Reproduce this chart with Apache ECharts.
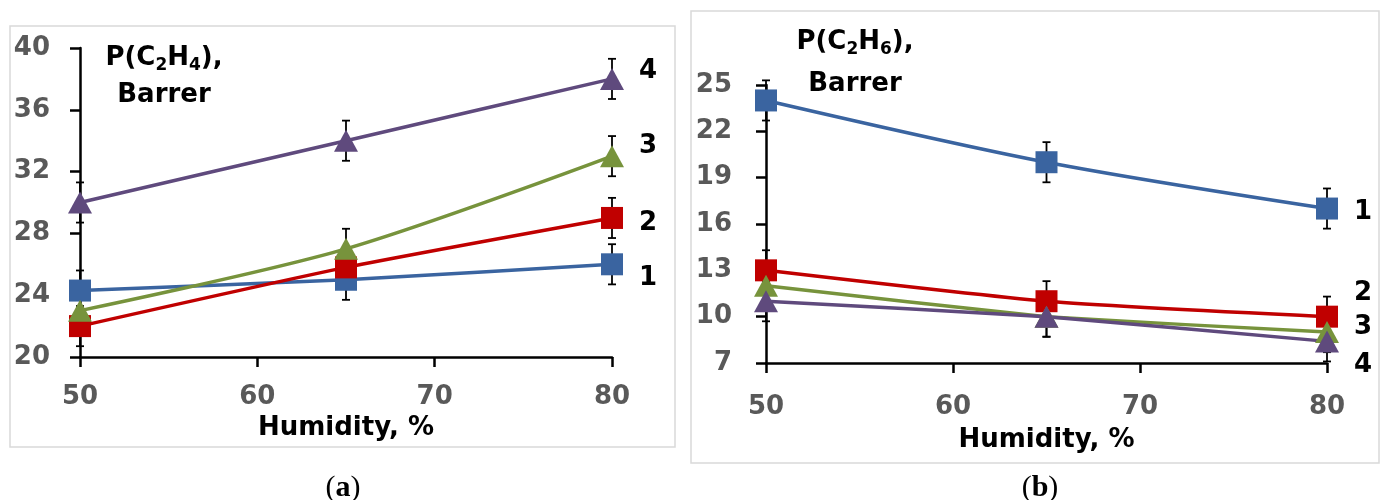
<!DOCTYPE html>
<html>
<head>
<meta charset="utf-8">
<script src="https://cdn.jsdelivr.net/npm/echarts@6/dist/echarts.min.js"></script>
<style>
  html, body { margin: 0; padding: 0; background: #fff; }
  #chart { width: 1383px; height: 500px; }
</style>
</head>
<body>
<div id="chart"></div>
<script>
// humidity, %
const humidity = [50, 65, 80]

// (a) P(C2H4), Barrer, samples 1..4
const ethylene1 = [24.3, 25.0, 26.0]
const ethylene2 = [22.0, 25.8, 29.0]
const ethylene3 = [23.0, 27.0, 33.0]
const ethylene4 = [30.0, 34.0, 38.0]
const ethyleneErr = [1.3, 1.3, 1.3]

// (b) P(C2H6), Barrer, samples 1..4
const ethane1 = [24.0, 20.0, 17.0]
const ethane2 = [13.0, 11.0, 10.0]
const ethane3 = [12.0, 10.0, 9.0]
const ethane4 = [11.0, 10.0, 8.4]
const ethaneErr = [1.3, 1.3, 1.3]

const yTicksA = { min: 20, max: 40, interval: 4 }
const yTicksB = { min: 7, max: 25, interval: 3 }

const colors = ['#3a64a0', '#c00000', '#77933c', '#5f4a7d']
const FONT = 'DejaVu Sans'

const chart = echarts.init(document.getElementById('chart'))

// pairs [x, y] for a value axis
function pts(values) {
  return humidity.map((h, i) => [h, values[i]])
}
// [x, low, high] for the error bars
function errPts(values, err) {
  return humidity.map((h, i) => [h, values[i] - err[i], values[i] + err[i]])
}

function renderErr(params, api) {
  const x = api.value(0)
  const lo = api.coord([x, api.value(1)])
  const hi = api.coord([x, api.value(2)])
  const w = 4
  const st = { stroke: '#000', lineWidth: 1.8 }
  return {
    type: 'group',
    children: [
      { type: 'line', shape: { x1: lo[0], y1: lo[1], x2: hi[0], y2: hi[1] }, style: st },
      { type: 'line', shape: { x1: hi[0] - w, y1: hi[1], x2: hi[0] + w, y2: hi[1] }, style: st },
      { type: 'line', shape: { x1: lo[0] - w, y1: lo[1], x2: lo[0] + w, y2: lo[1] }, style: st }
    ]
  }
}

function lineSeries(idx, values, num, dy, symbol, smooth) {
  return {
    type: 'line',
    xAxisIndex: idx,
    yAxisIndex: idx,
    data: pts(values),
    smooth: smooth,
    symbol: symbol,
    symbolSize: symbol === 'rect' ? 22 : [24, 22],
    lineStyle: { width: 3.5, color: colors[num - 1] },
    itemStyle: { color: colors[num - 1] },
    z: 3,
    endLabel: {
      show: true,
      formatter: String(num),
      distance: 27,
      offset: [0, dy],
      color: '#000',
      fontFamily: FONT,
      fontWeight: 'bold',
      fontSize: 26
    }
  }
}

function errSeries(idx, values, err) {
  return {
    type: 'custom',
    xAxisIndex: idx,
    yAxisIndex: idx,
    renderItem: renderErr,
    encode: { x: 0, y: [1, 2] },
    data: errPts(values, err),
    z: 2
  }
}

const tickLabel = {
  color: '#595959',
  fontFamily: FONT,
  fontWeight: 'bold',
  fontSize: 26
}
const axisLine = { lineStyle: { color: '#000', width: 2.5 } }
const axisTick = { inside: false, length: 10, lineStyle: { color: '#000', width: 2.5 } }

function xAxis(idx, labelMargin, nameGap) {
  return {
    type: 'value',
    gridIndex: idx,
    min: 50,
    max: 80,
    interval: 10,
    name: 'Humidity, %',
    nameLocation: 'middle',
    nameGap: nameGap,
    nameTextStyle: { color: '#000', fontFamily: FONT, fontWeight: 'bold', fontSize: 26 },
    axisLine: axisLine,
    axisTick: axisTick,
    axisLabel: Object.assign({ margin: labelMargin }, tickLabel),
    splitLine: { show: false }
  }
}

function yAxis(idx, ticks, labelMargin) {
  return {
    type: 'value',
    gridIndex: idx,
    min: ticks.min,
    max: ticks.max,
    interval: ticks.interval,
    axisLine: Object.assign({ show: true }, axisLine),
    axisTick: axisTick,
    axisLabel: Object.assign({ margin: labelMargin }, tickLabel),
    splitLine: { show: false }
  }
}

const titleRich = {
  m: { fontFamily: FONT, fontWeight: 'bold', fontSize: 26, fill: '#000' },
  s: { fontFamily: FONT, fontWeight: 'bold', fontSize: 17, fill: '#000', padding: [15, 0, 0, 0] }
}
const capRich = {
  p: { fontFamily: 'Liberation Serif', fontSize: 30, fill: '#000' },
  b: { fontFamily: 'Liberation Serif', fontWeight: 'bold', fontSize: 30, fill: '#000' }
}

function txt(x, y, text, rich) {
  return {
    type: 'text',
    x: x,
    y: y,
    style: { text: text, rich: rich, align: 'center', verticalAlign: 'middle' },
    z: 10
  }
}

const option = {
  animation: false,
  backgroundColor: '#fff',
  grid: [
    { left: 80, top: 48, width: 532, height: 309 },
    { left: 766, top: 85, width: 561, height: 278 }
  ],
  xAxis: [xAxis(0, 27, 57), xAxis(1, 31, 64)],
  yAxis: [yAxis(0, yTicksA, 30), yAxis(1, yTicksB, 34)],
  graphic: [
    // panel frames
    { type: 'rect', shape: { x: 10, y: 26, width: 665, height: 421 }, style: { fill: 'none', stroke: '#d9d9d9', lineWidth: 1.5 }, z: 0 },
    { type: 'rect', shape: { x: 691, y: 11, width: 688, height: 452 }, style: { fill: 'none', stroke: '#d9d9d9', lineWidth: 1.5 }, z: 0 },
    // panel titles
    txt(164, 58, '{m|P(C}{s|2}{m|H}{s|4}{m|),}', titleRich),
    txt(164, 95, '{m|Barrer}', titleRich),
    txt(855, 42, '{m|P(C}{s|2}{m|H}{s|6}{m|),}', titleRich),
    txt(855, 84, '{m|Barrer}', titleRich),
    // captions
    txt(343, 488, '{p|(}{b|a}{p|)}', capRich),
    txt(1040, 488, '{p|(}{b|b}{p|)}', capRich)
  ],
  series: [
    errSeries(0, ethylene1, ethyleneErr),
    errSeries(0, ethylene2, ethyleneErr),
    errSeries(0, ethylene3, ethyleneErr),
    errSeries(0, ethylene4, ethyleneErr),
    lineSeries(0, ethylene1, 1, 14, 'rect', 0.1),
    lineSeries(0, ethylene2, 2, 5, 'rect', 0.2),
    lineSeries(0, ethylene3, 3, -10, 'triangle', 0.3),
    lineSeries(0, ethylene4, 4, -8, 'triangle', 0.1),
    errSeries(1, ethane1, ethaneErr),
    errSeries(1, ethane2, ethaneErr),
    errSeries(1, ethane3, ethaneErr),
    errSeries(1, ethane4, ethaneErr),
    lineSeries(1, ethane1, 1, 4, 'rect', 0.3),
    lineSeries(1, ethane2, 2, -23, 'rect', 0.2),
    lineSeries(1, ethane3, 3, -5, 'triangle', 0.1),
    lineSeries(1, ethane4, 4, 24, 'triangle', 0.1)
  ]
}

chart.setOption(option)
</script>
</body>
</html>
